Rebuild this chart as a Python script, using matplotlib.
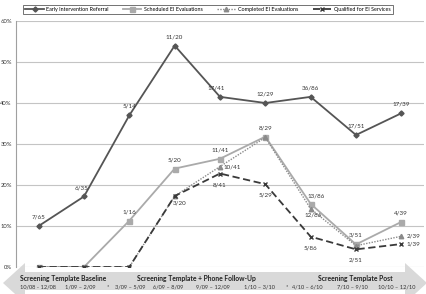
import matplotlib
matplotlib.use("Agg")
import matplotlib.pyplot as plt
from matplotlib.patches import Polygon

plt.rcParams["font.family"] = ["Lato", "DejaVu Sans"]

periods = ["10/08 - 12/08", "1/09 – 2/09", "3/09 – 5/09", "6/09 – 8/09", "9/09 – 12/09",
           "1/10 – 3/10", "4/10 – 6/10", "7/10 – 9/10", "10/10 – 12/10"]
phases = ["Screening Template Baseline", "Screening Template + Phone Follow-Up", "Screening Template Post"]

referral = [10.0, 17.2, 37.0, 54.0, 41.5, 40.0, 41.5, 32.2, 37.5]
referral_lbl = ["7/65", "6/35", "5/14", "11/20", "17/41", "12/29", "36/86", "17/51", "17/39"]

scheduled = [0.0, 0.0, 11.3, 24.0, 26.4, 31.8, 15.4, 5.5, 11.0]
scheduled_lbl = [None, None, "1/16", "5/20", "11/41", "8/29", "13/86", "3/51", "4/39"]

completed = [0.0, 0.0, 0.0, 17.3, 24.5, 31.6, 14.2, 5.2, 7.5]
completed_lbl = [None, None, None, None, "10/41", None, "12/86", None, "2/39"]

qualified = [0.0, 0.0, 0.0, 17.3, 22.8, 20.2, 7.4, 4.3, 5.6]
qualified_lbl = [None, None, None, "3/20", "8/41", "5/29", "5/86", "2/51", "1/39"]

W, H = 426, 294
fig = plt.figure(figsize=(W/100, H/100), dpi=100)
ax = fig.add_axes([16/W, 27/H, 408/W, 246/H])
x = list(range(len(periods)))

def pct(v):
    return [a / 100 for a in v]

c_ref = "#555555"
c_sch = "#aaaaaa"
c_com = "#8a8a8a"
c_qua = "#3a3a3a"

ax.plot(x, pct(referral), color=c_ref, lw=1.3, marker="D", ms=2.6, zorder=4, label="Early Intervention Referral")
ax.plot(x, pct(scheduled), color=c_sch, lw=1.3, marker="s", ms=3.6, zorder=3, label="Scheduled EI Evaluations")
ax.plot(x, pct(completed), color=c_com, lw=1.0, ls=(0, (1, 1)), marker="^", ms=3.2, zorder=3, label="Completed EI Evaluations")
ax.plot(x, pct(qualified), color=c_qua, lw=1.3, ls=(0, (4, 2)), marker="x", ms=3.0, mew=1.0, zorder=5, label="Qualified for EI Services")

fs = 4.5
def lab(vals, lbls, dx, dy, offs=None):
    for i, (v, t) in enumerate(zip(vals, lbls)):
        if t is None:
            continue
        ddx, ddy = (dx, dy) if offs is None or offs.get(i) is None else offs[i]
        ax.annotate(t, (i, v/100), xytext=(ddx, ddy), textcoords="offset pixels",
                    ha="center", va="center", fontsize=fs, color="#333333", zorder=6)

lab(referral, referral_lbl, 0, 9, offs={1: (-2, 8), 4: (-4, 9)})
lab(scheduled, scheduled_lbl, 0, 9, offs={6: (5, 8)})
lab(completed, completed_lbl, 12, 0, offs={6: (2, -6)})
lab(qualified, qualified_lbl, 0, -11, offs={3: (5, -7), 8: (12, 0)})

ax.set_xlim(-0.5, len(periods) - 0.5)
ax.set_ylim(0, 0.6)
ax.set_yticks([0, 0.1, 0.2, 0.3, 0.4, 0.5, 0.6])
ax.set_yticklabels(["0%", "10%", "20%", "30%", "40%", "50%", "60%"])
ax.tick_params(axis="y", labelsize=4.2, length=0, pad=3, labelcolor="#333333")
ax.set_xticks([])
ax.grid(axis="y", color="#c4c4c4", lw=0.8)
ax.set_axisbelow(True)
for s in ["top", "right", "bottom"]:
    ax.spines[s].set_visible(False)
ax.spines["left"].set_color("#a0a0a0")
ax.spines["left"].set_linewidth(0.8)
ax.patch.set_alpha(0)

leg = fig.legend(loc="upper center", bbox_to_anchor=(208/W, 1 - 2/H), ncol=4, fontsize=3.9,
                 frameon=True, fancybox=False, edgecolor="#333333", handlelength=3.4,
                 columnspacing=2.6, handletextpad=0.5, borderpad=0.4)
leg.get_frame().set_linewidth(0.6)

# bottom double-headed arrow band (pixel coordinates from top)
pts = [(3, 283), (25, 263), (25, 272), (405, 272), (405, 263), (427, 283),
       (405, 303), (405, 290), (25, 290), (25, 303)]
poly = Polygon([(px / W, 1 - py / H) for px, py in pts], closed=True,
               transform=fig.transFigure, facecolor="#d9d9d9", edgecolor="none", zorder=0)
fig.patches.append(poly)

fig.text(20/W, 1 - 278.5/H, phases[0], fontsize=4.9, fontweight="bold", color="#222222", ha="left", va="center")
fig.text(196/W, 1 - 278.5/H, phases[1], fontsize=4.9, fontweight="bold", color="#222222", ha="center", va="center")
fig.text(355/W, 1 - 278.5/H, phases[2], fontsize=4.9, fontweight="bold", color="#222222", ha="center", va="center")

date_x = [37.7, 80, 130, 168, 213, 259, 307, 352, 397]
for dxp, t in zip(date_x, periods):
    fig.text(dxp/W, 1 - 287/H, t, fontsize=4.1, color="#333333", ha="center", va="center")
for sx in [107.7, 287]:
    fig.text(sx/W, 1 - 286.5/H, "*", fontsize=4.1, color="#333333", ha="center", va="center")

fig.savefig("out.png", dpi=100)
